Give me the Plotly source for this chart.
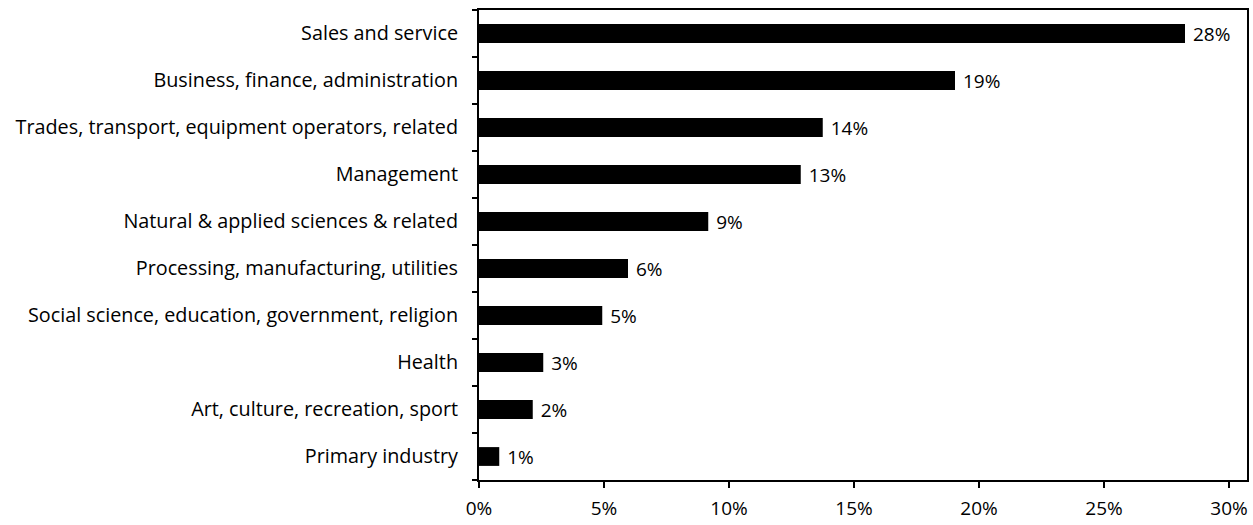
import plotly.graph_objects as go

categories = [
    "Sales and service",
    "Business, finance, administration",
    "Trades, transport, equipment operators, related",
    "Management",
    "Natural & applied sciences & related",
    "Processing, manufacturing, utilities",
    "Social science, education, government, religion",
    "Health",
    "Art, culture, recreation, sport",
    "Primary industry",
]
values = [28.24, 19.04, 13.75, 12.87, 9.17, 5.96, 4.93, 2.57, 2.15, 0.81]
tick_vals = [0, 5, 10, 15, 20, 25, 30]
tick_text = ["0%", "5%", "10%", "15%", "20%", "25%", "30%"]

FONT = "Open Sans"
FS = 19

fig = go.Figure(
    go.Bar(
        x=values,
        y=categories,
        orientation="h",
        marker=dict(color="black", line=dict(width=0)),
        width=0.4,
        texttemplate=" %{x:.0f}%",
        textposition="outside",
        constraintext="none",
        textfont=dict(family=FONT, size=FS, color="black"),
        cliponaxis=False,
    )
)

fig.update_layout(
    width=1253,
    height=525,
    margin=dict(l=479, r=6, t=10, b=45, autoexpand=False),
    plot_bgcolor="white",
    paper_bgcolor="white",
    showlegend=False,
    font=dict(family=FONT, size=FS, color="black"),
    uniformtext=dict(mode=False),
)

fig.update_xaxes(
    range=[0, 30.72],
    tickvals=tick_vals,
    ticktext=tick_text,
    ticks="outside",
    ticklen=6,
    tickwidth=1.5,
    tickcolor="black",
    showline=True,
    linecolor="black",
    linewidth=2,
    mirror=True,
    showgrid=False,
    zeroline=False,
    tickfont=dict(family=FONT, size=FS, color="black"),
    ticklabelstandoff=4,
    automargin=False,
)

fig.update_yaxes(
    categoryorder="array",
    categoryarray=categories[::-1],
    ticks="outside",
    tickson="boundaries",
    ticklen=5,
    tickwidth=1.5,
    tickcolor="black",
    showline=True,
    linecolor="black",
    linewidth=2,
    mirror=True,
    showgrid=False,
    tickfont=dict(family=FONT, size=19.8, color="black"),
    ticklabelstandoff=15,
    automargin=False,
)

fig.write_html(
    "out.html",
    config={"displayModeBar": False},
    post_script="document.body.style.margin='0px';",
)
